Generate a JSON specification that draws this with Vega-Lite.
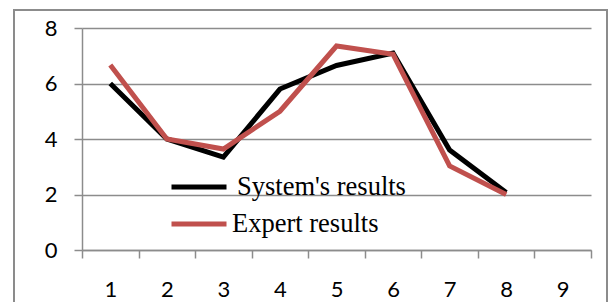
{
  "$schema": "https://vega.github.io/schema/vega-lite/v6.json",
  "width": 509,
  "height": 222,
  "autosize": "none",
  "padding": {"left": 82, "top": 28, "right": 17, "bottom": 52},
  "background": "white",
  "config": {
    "view": {"stroke": null},
    "axis": {
      "domainColor": "#8c8c8c", "domainWidth": 1.5,
      "tickColor": "#8c8c8c", "tickWidth": 1.5, "tickSize": 8,
      "gridColor": "#8c8c8c", "gridWidth": 1.5,
      "labelFont": "Lato", "labelFontSize": 22, "labelColor": "#000000",
      "title": null
    },
    "legend": {
      "orient": "none", "title": null, "symbolType": "stroke", "symbolSize": 3025,
      "symbolStrokeWidth": 5, "labelFont": "Liberation Serif",
      "labelFontSize": 26.5, "labelColor": "#000000", "labelLimit": 400
    }
  },
  "data": {"values": [
    {"x": 1, "series": "System's results", "value": 6.0},
    {"x": 2, "series": "System's results", "value": 4.0},
    {"x": 3, "series": "System's results", "value": 3.35},
    {"x": 4, "series": "System's results", "value": 5.8},
    {"x": 5, "series": "System's results", "value": 6.65},
    {"x": 6, "series": "System's results", "value": 7.1},
    {"x": 7, "series": "System's results", "value": 3.6},
    {"x": 8, "series": "System's results", "value": 2.07},
    {"x": 1, "series": "Expert results", "value": 6.67},
    {"x": 2, "series": "Expert results", "value": 4.0},
    {"x": 3, "series": "Expert results", "value": 3.64},
    {"x": 4, "series": "Expert results", "value": 5.0},
    {"x": 5, "series": "Expert results", "value": 7.35},
    {"x": 6, "series": "Expert results", "value": 7.05},
    {"x": 7, "series": "Expert results", "value": 3.03},
    {"x": 8, "series": "Expert results", "value": 2.0}
  ]},
  "resolve": {"axis": {"x": "independent"}},
  "layer": [
    {
      "mark": {"type": "rect", "fill": null, "stroke": "#8c8c8c", "strokeWidth": 1.5},
      "encoding": {
        "x": {"datum": -0.702, "type": "quantitative", "axis": null},
        "x2": {"datum": 9.78},
        "y": {"datum": 8.65, "type": "quantitative"},
        "y2": {"datum": -2.5}
      }
    },
    {
      "transform": [{"filter": "datum.series === \"System's results\""}],
      "mark": {"type": "line", "strokeWidth": 5, "strokeJoin": "miter", "strokeCap": "butt"},
      "encoding": {
        "x": {"field": "x", "type": "quantitative",
              "scale": {"domain": [0.5, 9.5], "nice": false, "zero": false},
              "axis": {"values": [0.5,1.5,2.5,3.5,4.5,5.5,6.5,7.5,8.5,9.5], "labels": false, "grid": false, "orient": "bottom"}},
        "y": {"field": "value", "type": "quantitative",
              "scale": {"domain": [0, 8], "nice": false},
              "axis": {"values": [0,2,4,6,8], "grid": true, "labelPadding": 17}},
        "color": {"field": "series", "type": "nominal",
                  "scale": {"domain": ["System's results"], "range": ["#000000"]},
                  "legend": {"legendX": 87, "legendY": 129, "labelOffset": 8}},
        "order": {"field": "x"}
      }
    },
    {
      "transform": [{"filter": "datum.series === 'Expert results'"}],
      "mark": {"type": "line", "strokeWidth": 5, "strokeJoin": "miter", "strokeCap": "butt"},
      "encoding": {
        "x": {"field": "x", "type": "quantitative",
              "axis": {"values": [1,2,3,4,5,6,7,8,9], "ticks": false, "domain": false, "grid": false, "orient": "bottom", "labelPadding": 29}},
        "y": {"field": "value", "type": "quantitative"},
        "stroke": {"field": "series", "type": "nominal",
                   "scale": {"domain": ["Expert results"], "range": ["#C0504D"]},
                   "legend": {"legendX": 87, "legendY": 166, "labelOffset": 3}},
        "order": {"field": "x"}
      }
    }
  ]
}
